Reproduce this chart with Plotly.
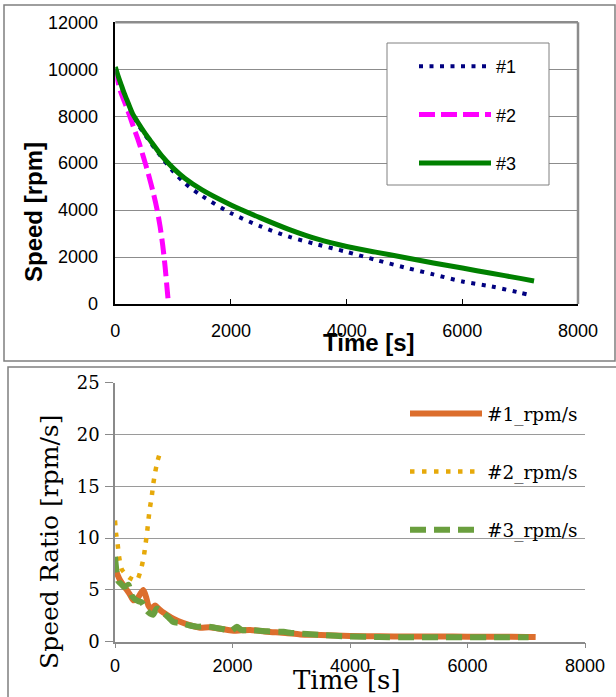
import plotly.graph_objects as go

# ---------------- data: top chart (Speed) ----------------
t1 = [0, 100, 200, 300, 400, 500, 600, 800, 1000, 1200, 1500, 2000, 2500, 3000,
      3500, 4000, 4500, 5000, 5500, 6000, 6500, 7000, 7120]
speed1 = [10000, 9300, 8650, 8080, 7620, 7250, 6900, 6250, 5650, 5150, 4600, 3870,
          3320, 2870, 2530, 2220, 1880, 1560, 1260, 960, 750, 480, 410]

t2 = [0, 81, 200, 312, 400, 485, 570, 659, 720, 775, 820, 861, 890, 920]
speed2 = [10000, 9120, 8350, 7555, 6950, 6276, 5550, 4716, 4050, 3295, 2500, 1590, 800, 0]

t3 = [0, 50, 100, 150, 200, 300, 400, 500, 600, 800, 1000, 1200, 1500, 2000, 2500,
      3000, 3500, 4000, 4500, 5000, 5500, 6000, 6500, 7000, 7240]
speed3 = [10100, 9700, 9350, 9000, 8700, 8100, 7700, 7320, 6980, 6320, 5790, 5360,
          4860, 4220, 3680, 3180, 2760, 2450, 2210, 1980, 1750, 1530, 1310, 1090, 980]

speed_names = ["#1", "#2", "#3"]

# ---------------- data: bottom chart (Speed Ratio) ----------------
r1_t = [0, 40, 85, 150, 200, 260, 312, 380, 430, 483, 530, 568, 620, 682, 720, 800,
        881, 1000, 1165, 1300, 1449, 1600, 1733, 1900, 2017, 2150, 2301, 2585, 2900,
        3153, 3500, 4000, 4500, 5000, 5500, 6000, 6500, 7000, 7160]
r1_v = [7.0, 6.5, 5.95, 5.4, 5.0, 4.5, 4.0, 4.2, 4.6, 5.0, 4.3, 3.5, 3.2, 3.5, 3.3,
        2.9, 2.6, 2.2, 1.8, 1.55, 1.35, 1.4, 1.3, 1.15, 1.06, 1.1, 1.13, 0.97, 0.85,
        0.7, 0.65, 0.55, 0.52, 0.5, 0.5, 0.48, 0.47, 0.46, 0.45]

r2_t = [0, 17, 45, 70, 114, 239, 369, 443, 489, 517, 545, 568, 591, 625, 648, 682, 722, 778]
r2_v = [11.7, 10.5, 9.4, 8.2, 7.0, 6.2, 5.9, 7.0, 8.2, 9.3, 10.5, 11.7, 12.8, 14.0,
        15.1, 16.3, 17.4, 18.5]

r3_t = [0, 25, 60, 100, 150, 200, 230, 280, 340, 400, 455, 540, 600, 650, 711, 800,
        900, 994, 1100, 1250, 1400, 1550, 1700, 1850, 1980, 2074, 2150, 2350, 2600,
        2870, 3000, 3270, 3500, 4000, 4500, 5000, 5500, 6000, 6500, 7040]
r3_v = [8.2, 6.8, 5.8, 5.6, 5.3, 5.4, 5.5, 4.5, 4.1, 3.9, 3.8, 3.0, 2.7, 2.6, 3.2,
        2.9, 2.4, 1.9, 1.8, 1.6, 1.45, 1.5, 1.35, 1.2, 1.05, 1.45, 1.15, 1.1, 1.0,
        0.95, 0.85, 0.75, 0.65, 0.5, 0.45, 0.43, 0.42, 0.42, 0.42, 0.42]

ratio_names = ["#1_rpm/s", "#2_rpm/s", "#3_rpm/s"]

x_ticks = [0, 2000, 4000, 6000, 8000]
speed_ticks = [0, 2000, 4000, 6000, 8000, 10000, 12000]
ratio_ticks = [0, 5, 10, 15, 20, 25]

W, H = 616, 697
def fx(p):
    return p / W
def fy(p):
    return 1 - p / H

SANS = "Liberation Sans, Arial, sans-serif"
SERIF = "DejaVu Serif, serif"

fig = go.Figure()

# top traces
fig.add_trace(go.Scatter(x=t1, y=speed1, name=speed_names[0], mode="lines",
                         line=dict(color="#000080", width=4, dash="4px,6.5px",
                                   shape="spline", smoothing=0.8),
                         xaxis="x", yaxis="y", legend="legend", legendgroup="a"))
fig.add_trace(go.Scatter(x=t2, y=speed2, name=speed_names[1], mode="lines",
                         line=dict(color="#FF00FF", width=5, dash="16px,6px",
                                   shape="spline", smoothing=0.8),
                         xaxis="x", yaxis="y", legend="legend", legendgroup="b"))
fig.add_trace(go.Scatter(x=t3, y=speed3, name=speed_names[2], mode="lines",
                         line=dict(color="#008000", width=5, shape="spline", smoothing=0.8),
                         xaxis="x", yaxis="y", legend="legend", legendgroup="c"))

# bottom traces
fig.add_trace(go.Scatter(x=r1_t, y=r1_v, name=ratio_names[0], mode="lines",
                         line=dict(color="#DC6E2D", width=6, shape="spline", smoothing=0.6),
                         xaxis="x2", yaxis="y2", legend="legend2", legendgroup="d"))
fig.add_trace(go.Scatter(x=r2_t, y=r2_v, name=ratio_names[1], mode="lines",
                         line=dict(color="#E6A90A", width=4.5, dash="4.5px,7.5px",
                                   shape="spline", smoothing=0.6),
                         xaxis="x2", yaxis="y2", legend="legend2", legendgroup="e"))
fig.add_trace(go.Scatter(x=r3_t, y=r3_v, name=ratio_names[2], mode="lines",
                         line=dict(color="#6A9F3E", width=6, dash="16px,8px",
                                   shape="spline", smoothing=0.6),
                         xaxis="x2", yaxis="y2", legend="legend2", legendgroup="f"))

fig.update_layout(
    width=W, height=H,
    margin=dict(l=0, r=0, t=0, b=0, autoexpand=False),
    paper_bgcolor="white", plot_bgcolor="white",
    xaxis=dict(domain=[fx(115.3), fx(578)], anchor="y", range=[0, 8000],
               tickvals=x_ticks, ticktext=[str(v) for v in x_ticks],
               showline=True, linecolor="black", linewidth=1.5,
               ticks="inside", ticklen=5, tickcolor="black", showgrid=False,
               zeroline=False, tickfont=dict(family=SANS, size=18, color="black"),
               ticklabelstandoff=10, automargin=False),
    yaxis=dict(domain=[fy(304), fy(22.3)], anchor="x", range=[0, 12000],
               tickvals=speed_ticks, ticktext=[str(v) for v in speed_ticks],
               showline=True, linecolor="black", linewidth=1.5,
               ticks="", showgrid=True, gridcolor="#8c8c8c", gridwidth=1.2,
               zeroline=False, tickfont=dict(family=SANS, size=18, color="black"),
               ticklabelstandoff=12, automargin=False),
    xaxis2=dict(domain=[fx(115), fx(585)], anchor="y2", range=[0, 8000],
                tickvals=x_ticks, ticktext=[str(v) for v in x_ticks],
                showline=True, linecolor="#8a8a8a", linewidth=1.5,
                ticks="outside", ticklen=5, tickcolor="#8a8a8a", showgrid=False,
                zeroline=False, tickfont=dict(family=SANS, size=18, color="black"),
                ticklabelstandoff=2, automargin=False),
    yaxis2=dict(domain=[fy(641.7), fy(382.7)], anchor="x2", range=[0, 25],
                tickvals=ratio_ticks, ticktext=[str(v) for v in ratio_ticks],
                showline=True, linecolor="#8a8a8a", linewidth=1.5,
                ticks="outside", ticklen=8, tickcolor="#8a8a8a", showgrid=True,
                gridcolor="#9a9a9a", gridwidth=1.2, zeroline=False,
                tickfont=dict(family=SERIF, size=18, color="black"),
                ticklabelstandoff=2, automargin=False),
    legend=dict(x=fx(414), y=fy(48), xanchor="left", yanchor="top",
                bgcolor="rgba(0,0,0,0)", borderwidth=0,
                font=dict(family=SANS, size=18, color="black"),
                tracegroupgap=22, itemwidth=72, traceorder="grouped"),
    legend2=dict(x=fx(405), y=fy(395), xanchor="left", yanchor="top",
                 bgcolor="rgba(0,0,0,0)", borderwidth=0,
                 font=dict(family=SERIF, size=18.5, color="black"),
                 tracegroupgap=31, itemwidth=72, traceorder="grouped"),
    showlegend=True,
)

shapes = [
    # outer frames
    dict(type="rect", xref="paper", yref="paper", x0=fx(4), x1=fx(615), y0=fy(361), y1=fy(5),
         line=dict(color="#7f7f7f", width=1.5)),
    dict(type="rect", xref="paper", yref="paper", x0=fx(8), x1=fx(640), y0=fy(720), y1=fy(367),
         line=dict(color="#7f7f7f", width=1.5)),
    # top plot-area gray border (top and right)
    dict(type="line", xref="x domain", yref="y domain", x0=0, x1=1, y0=1, y1=1,
         line=dict(color="#8c8c8c", width=2.5)),
    dict(type="line", xref="x domain", yref="y domain", x0=1, x1=1, y0=0, y1=1,
         line=dict(color="#8c8c8c", width=2.5)),
    # top legend box
    dict(type="rect", xref="paper", yref="paper", x0=fx(387), x1=fx(549), y0=fy(185), y1=fy(43),
         fillcolor="white", line=dict(color="#808080", width=1), layer="above"),
]
fig.update_layout(shapes=shapes)

annotations = [
    dict(text="<b>Speed [rpm]</b>", xref="paper", yref="paper", x=fx(33), y=fy(212),
         xanchor="center", yanchor="middle",
         textangle=-90, showarrow=False, font=dict(family=SANS, size=24, color="black")),
    dict(text="<b>Time [s]</b>", xref="paper", yref="paper", x=fx(369), y=fy(342),
         xanchor="center", yanchor="middle",
         showarrow=False, font=dict(family=SANS, size=24, color="black")),
    dict(text="Speed Ratio [rpm/s]", xref="paper", yref="paper", x=fx(49), y=fy(542),
         xanchor="center", yanchor="middle",
         textangle=-90, showarrow=False, font=dict(family=SERIF, size=25, color="black")),
    dict(text="Time [s]", xref="paper", yref="paper", x=fx(347), y=fy(680),
         xanchor="center", yanchor="middle",
         showarrow=False, font=dict(family=SERIF, size=26, color="black")),
]
fig.update_layout(annotations=annotations)

fig.write_html("out.html",
               config={"displayModeBar": False},
               post_script="document.body.style.margin='0';"
                           "document.body.style.overflow='hidden';")
